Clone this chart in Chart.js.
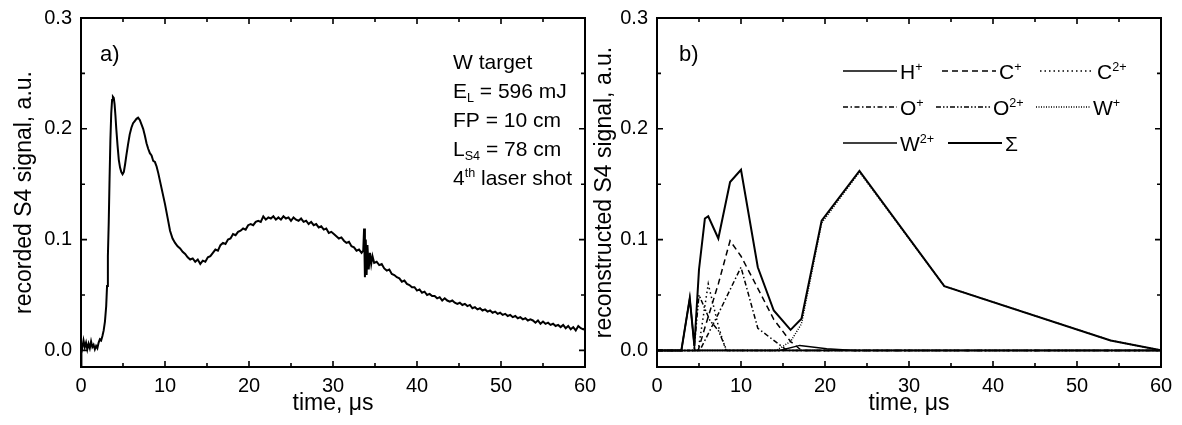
<!DOCTYPE html>
<html><head><meta charset="utf-8">
<script src="https://cdn.jsdelivr.net/npm/chart.js@4/dist/chart.umd.min.js"></script>
<style>
html,body{margin:0;padding:0;background:#fff;}
#wrap{position:relative;width:1182px;height:425px;overflow:hidden;}
.panel{position:absolute;top:0;height:425px;}
#pa{left:0;width:600px;}
#pb{left:591px;width:591px;}
</style></head><body>
<div id="wrap"><div class="panel" id="pa"><canvas id="ca"></canvas></div><div class="panel" id="pb"><canvas id="cb"></canvas></div></div>
<script>
// ---------- data ----------
const xTicks=[0,10,20,30,40,50,60];
const xMinor=[5,15,25,35,45,55];
const yTicks=[0,0.1,0.2,0.3];
const yMinor=[0.05,0.15,0.25];

// panel a) recorded S4 signal
const timeA=[0,0.05,0.15,0.3,0.45,0.6,0.75,0.9,1.05,1.2,1.35,1.5,1.65,1.8,1.95,2.1,2.25,2.4,2.55,2.7,2.85,3.0,3.1,3.2,3.3,3.4,3.5,3.6,3.7,3.8,3.9,4.0,4.1,4.2,4.35,4.5,4.65,4.8,4.95,5.1,5.25,5.4,5.6,5.8,6.0,6.2,6.4,6.6,6.8,7.0,7.2,7.4,7.6,7.8,8.0,8.2,8.4,8.6,8.8,9.0,9.2,9.4,9.6,9.8,10.0,10.3,10.6,10.9,11.2,11.5,11.8,12.1,12.4,12.7,13.0,13.3,13.6,13.9,14.2,14.5,14.8,15.1,15.4,15.7,16.0,16.3,16.6,16.9,17.2,17.5,17.8,18.1,18.4,18.7,19.0,19.3,19.6,19.9,20.2,20.5,20.8,21.1,21.4,21.7,22.0,22.3,22.6,22.9,23.2,23.5,23.8,24.1,24.4,24.7,25.0,25.3,25.6,25.9,26.2,26.5,26.8,27.1,27.4,27.7,28.0,28.3,28.6,28.9,29.2,29.5,29.8,30.1,30.4,30.7,31.0,31.3,31.6,31.9,32.2,32.5,32.8,33.1,33.4,33.6,33.7,33.8,33.9,34.0,34.1,34.25,34.4,34.55,34.7,34.9,35.2,35.5,35.8,36.1,36.4,36.7,37.0,37.3,37.6,37.9,38.2,38.5,38.8,39.1,39.4,39.7,40.0,40.3,40.6,40.9,41.2,41.5,41.8,42.1,42.4,42.7,43.0,43.3,43.6,43.9,44.2,44.5,44.8,45.1,45.4,45.7,46.0,46.3,46.6,46.9,47.2,47.5,47.8,48.1,48.4,48.7,49.0,49.3,49.6,49.9,50.2,50.5,50.8,51.1,51.4,51.7,52.0,52.3,52.6,52.9,53.2,53.5,53.8,54.1,54.4,54.7,55.0,55.3,55.6,55.9,56.2,56.5,56.8,57.1,57.4,57.7,58.0,58.3,58.6,58.9,59.2,59.5,59.8,60.0];
const signalA=[-0.016,0.006,0.002,0.009,0.003,0.007,0.001,0.006,0.002,0.008,0.003,0.005,0.001,0.004,0.002,0.007,0.010,0.009,0.013,0.018,0.026,0.040,0.058,0.085,0.115,0.155,0.190,0.214,0.226,0.229,0.228,0.222,0.212,0.200,0.185,0.172,0.165,0.161,0.159,0.161,0.168,0.176,0.186,0.195,0.201,0.205,0.207,0.209,0.210,0.208,0.204,0.200,0.194,0.187,0.182,0.178,0.176,0.171,0.170,0.166,0.160,0.153,0.146,0.139,0.132,0.120,0.108,0.101,0.097,0.094,0.092,0.089,0.087,0.084,0.082,0.083,0.080,0.082,0.078,0.081,0.080,0.084,0.085,0.088,0.091,0.090,0.095,0.097,0.096,0.100,0.101,0.105,0.104,0.107,0.108,0.110,0.109,0.113,0.114,0.113,0.116,0.117,0.116,0.121,0.118,0.120,0.119,0.121,0.118,0.120,0.118,0.121,0.119,0.120,0.117,0.120,0.118,0.117,0.119,0.116,0.117,0.114,0.116,0.113,0.114,0.111,0.112,0.109,0.110,0.106,0.107,0.105,0.103,0.101,0.102,0.099,0.097,0.098,0.094,0.093,0.090,0.091,0.088,0.090,0.110,0.066,0.100,0.068,0.095,0.073,0.088,0.078,0.085,0.079,0.080,0.077,0.078,0.074,0.072,0.073,0.069,0.068,0.066,0.065,0.062,0.063,0.060,0.059,0.057,0.057,0.054,0.055,0.052,0.053,0.050,0.051,0.049,0.049,0.047,0.048,0.045,0.047,0.045,0.044,0.045,0.043,0.042,0.043,0.041,0.042,0.040,0.041,0.038,0.039,0.037,0.038,0.036,0.037,0.035,0.036,0.034,0.035,0.033,0.034,0.032,0.033,0.031,0.032,0.030,0.031,0.029,0.030,0.028,0.029,0.027,0.028,0.027,0.025,0.027,0.024,0.026,0.024,0.025,0.023,0.024,0.022,0.023,0.021,0.023,0.020,0.022,0.019,0.021,0.018,0.022,0.020,0.019,0.020];

// panel b) reconstructed contributions
const tH=[0,2.9,3.9,4.5,60];                 const vH=[0,0,0.047,0,0];
const tC1=[0,4.9,5.8,7.3,8.7,10.0,12.0,13.9,15.9,17.2,60];
const vC1=[0,0,0.023,0.060,0.099,0.085,0.056,0.028,0.008,0,0];
const tC2=[0,4.9,6.1,7.3,8.2,60];            const vC2=[0,0,0.060,0.022,0,0];
const tO1=[0,5.1,7.3,10.0,12.0,13.9,15.5,60];
const vO1=[0,0,0.033,0.075,0.020,0.009,0,0];
const tO2=[0,4.4,5.0,6.3,7.3,8.3,60];        const vO2=[0,0,0.050,0.027,0.018,0,0];
const tW1=[0,14.2,15.9,17.2,19.6,24.1,34.2,54.0,60];
const vW1=[0,0,0.008,0.024,0.115,0.161,0.058,0.009,0];
const tW2=[0,14.6,17.0,20.2,23.5,60];        const vW2=[0,0,0.0045,0.0015,0,0];
const tS=[0,2.9,3.9,4.45,5.0,5.7,6.1,7.3,8.7,10.0,12.0,13.9,15.9,17.2,19.6,24.1,34.2,54.0,60];
const vS=[0,0,0.047,0.004,0.073,0.119,0.121,0.101,0.152,0.163,0.075,0.036,0.0185,0.0285,0.117,0.162,0.058,0.009,0];

const seriesLabels=['H^{+}','C^{+}','C^{2+}','O^{+}','O^{2+}','W^{+}','W^{2+}','Σ'];
const notesA=['W target','E_{L} = 596 mJ','FP = 10 cm','L_{S4} = 78 cm','4^{th} laser shot'];

// ---------- helpers ----------
const FONT='"Liberation Sans", Arial, Helvetica, sans-serif';
const zip=(t,v)=>t.map((x,i)=>({x:x,y:v[i]}));

function parseRich(str){
  const segs=[];const re=/(\^|_)\{([^}]*)\}/g;let last=0,m;
  while((m=re.exec(str))){
    if(m.index>last)segs.push({t:str.slice(last,m.index)});
    segs.push({t:m[2],sup:m[1]==='^',sub:m[1]==='_'});
    last=re.lastIndex;
  }
  if(last<str.length)segs.push({t:str.slice(last)});
  return segs;
}
function drawRich(ctx,str,x,y,size){
  ctx.textAlign='left';ctx.textBaseline='alphabetic';ctx.fillStyle='#000';
  for(const s of parseRich(str)){
    let fs=size,dy=0;
    if(s.sup){fs=size*0.6;dy=-size*0.36;}
    if(s.sub){fs=size*0.6;dy=size*0.2;}
    ctx.font=fs+'px '+FONT;
    ctx.fillText(s.t,x,y+dy);
    x+=ctx.measureText(s.t).width;
  }
}

const decor={id:'decor',afterDatasetsDraw(chart,args,o){
  const ctx=chart.ctx,a=chart.chartArea,xs=chart.scales.x,ys=chart.scales.y;
  ctx.save();
  ctx.strokeStyle='#000';ctx.setLineDash([]);
  ctx.lineWidth=1.6;ctx.beginPath();
  const tx=(vals,len)=>vals.forEach(v=>{const p=xs.getPixelForValue(v);
    ctx.moveTo(p,a.bottom);ctx.lineTo(p,a.bottom-len);ctx.moveTo(p,a.top);ctx.lineTo(p,a.top+len);});
  const ty=(vals,len)=>vals.forEach(v=>{const p=ys.getPixelForValue(v);
    ctx.moveTo(a.left,p);ctx.lineTo(a.left+len,p);ctx.moveTo(a.right,p);ctx.lineTo(a.right-len,p);});
  tx(xTicks,6);tx(xMinor,4);ty(yTicks,6);ty(yMinor,4);
  ctx.stroke();
  ctx.lineWidth=2;ctx.strokeRect(a.left,a.top,a.right-a.left,a.bottom-a.top);
  ctx.fillStyle='#000';ctx.font='22px '+FONT;ctx.textAlign='left';ctx.textBaseline='alphabetic';
  ctx.fillText(o.tag,o.tagX,o.tagY);
  (o.notes||[]).forEach((n,i)=>drawRich(ctx,n,o.notesX,o.notesY+i*o.notesDy,21));
  if(o.legend){
    chart.data.datasets.forEach((ds,i)=>{
      const p=o.legend[i];
      ctx.strokeStyle='#000';ctx.lineWidth=ds.borderWidth;ctx.setLineDash(ds.borderDash||[]);
      ctx.beginPath();ctx.moveTo(p[0],p[1]-8);ctx.lineTo(p[0]+o.legendLine,p[1]-8);ctx.stroke();
      ctx.setLineDash([]);
      drawRich(ctx,ds.label,p[0]+o.legendLine+3,p[1],21);
    });
  }
  ctx.restore();
}};

function scales(yTitle,yTitlePad,yWidth){
  return {
    x:{type:'linear',min:0,max:60,
      afterBuildTicks:s=>{s.ticks=xTicks.map(v=>({value:v}));},
      afterFit:s=>{s.height=58;s.paddingLeft=0;s.paddingRight=0;},
      ticks:{color:'#000',font:{family:FONT,size:20},padding:7,maxRotation:0,autoSkip:false,callback:v=>String(v)},
      grid:{display:false,drawTicks:false},border:{display:false},
      title:{display:true,text:'time, μs',color:'#000',font:{family:FONT,size:23},padding:{top:0,bottom:8}}},
    y:{type:'linear',min:-0.015,max:0.3,
      afterBuildTicks:s=>{s.ticks=yTicks.map(v=>({value:v}));},
      afterFit:s=>{s.width=yWidth;s.paddingTop=0;s.paddingBottom=0;},
      ticks:{color:'#000',font:{family:FONT,size:20},padding:9,callback:v=>v.toFixed(1)},
      grid:{display:false,drawTicks:false},border:{display:false},
      title:{display:true,text:yTitle,color:'#000',font:{family:FONT,size:23},padding:{top:yTitlePad,bottom:0}}}
  };
}
const common={responsive:true,maintainAspectRatio:false,animation:false,devicePixelRatio:1,
  events:[],elements:{point:{radius:0},line:{tension:0,borderCapStyle:'butt',borderJoinStyle:'miter'}}};

new Chart(document.getElementById('ca'),{
  type:'line',
  data:{datasets:[{label:'S4',data:zip(timeA,signalA),borderColor:'#000',borderWidth:2,fill:false}]},
  options:Object.assign({},common,{
    layout:{padding:{left:0,right:15,top:18,bottom:0}},
    scales:scales('recorded S4 signal, a.u.',11,81),
    plugins:{legend:{display:false},tooltip:{enabled:false},
      decor:{tag:'a)',tagX:100,tagY:61,notes:notesA,notesX:453,notesY:69,notesDy:29}}
  }),
  plugins:[decor]
});

const mk=(i,t,v,dash,w,ord)=>({label:seriesLabels[i],data:zip(t,v),borderColor:'#000',borderWidth:w,borderDash:dash,fill:false,order:ord});
new Chart(document.getElementById('cb'),{
  type:'line',
  data:{datasets:[
    mk(0,tH,vH,[],1.6,1),
    mk(1,tC1,vC1,[6,4],1.5,2),
    mk(2,tC2,vC2,[1.5,3],1.5,3),
    mk(3,tO1,vO1,[5,2.5,1.5,2.5],1.5,4),
    mk(4,tO2,vO2,[5,2,1.5,2,1.5,2],1.5,5),
    mk(5,tW1,vW1,[1,1.5],1.5,6),
    mk(6,tW2,vW2,[],1.5,7),
    mk(7,tS,vS,[],2,0)
  ]},
  options:Object.assign({},common,{
    layout:{padding:{left:0,right:21,top:18,bottom:0}},
    scales:scales('reconstructed S4 signal, a.u.',0,66),
    plugins:{legend:{display:false},tooltip:{enabled:false},
      decor:{tag:'b)',tagX:88,tagY:61,legendLine:54,
        legend:[[252,79],[351,79],[449,79],[252,115],[345,115],[445,115],[252,151],[357,151]]}}
  }),
  plugins:[decor]
});
</script>
</body></html>
